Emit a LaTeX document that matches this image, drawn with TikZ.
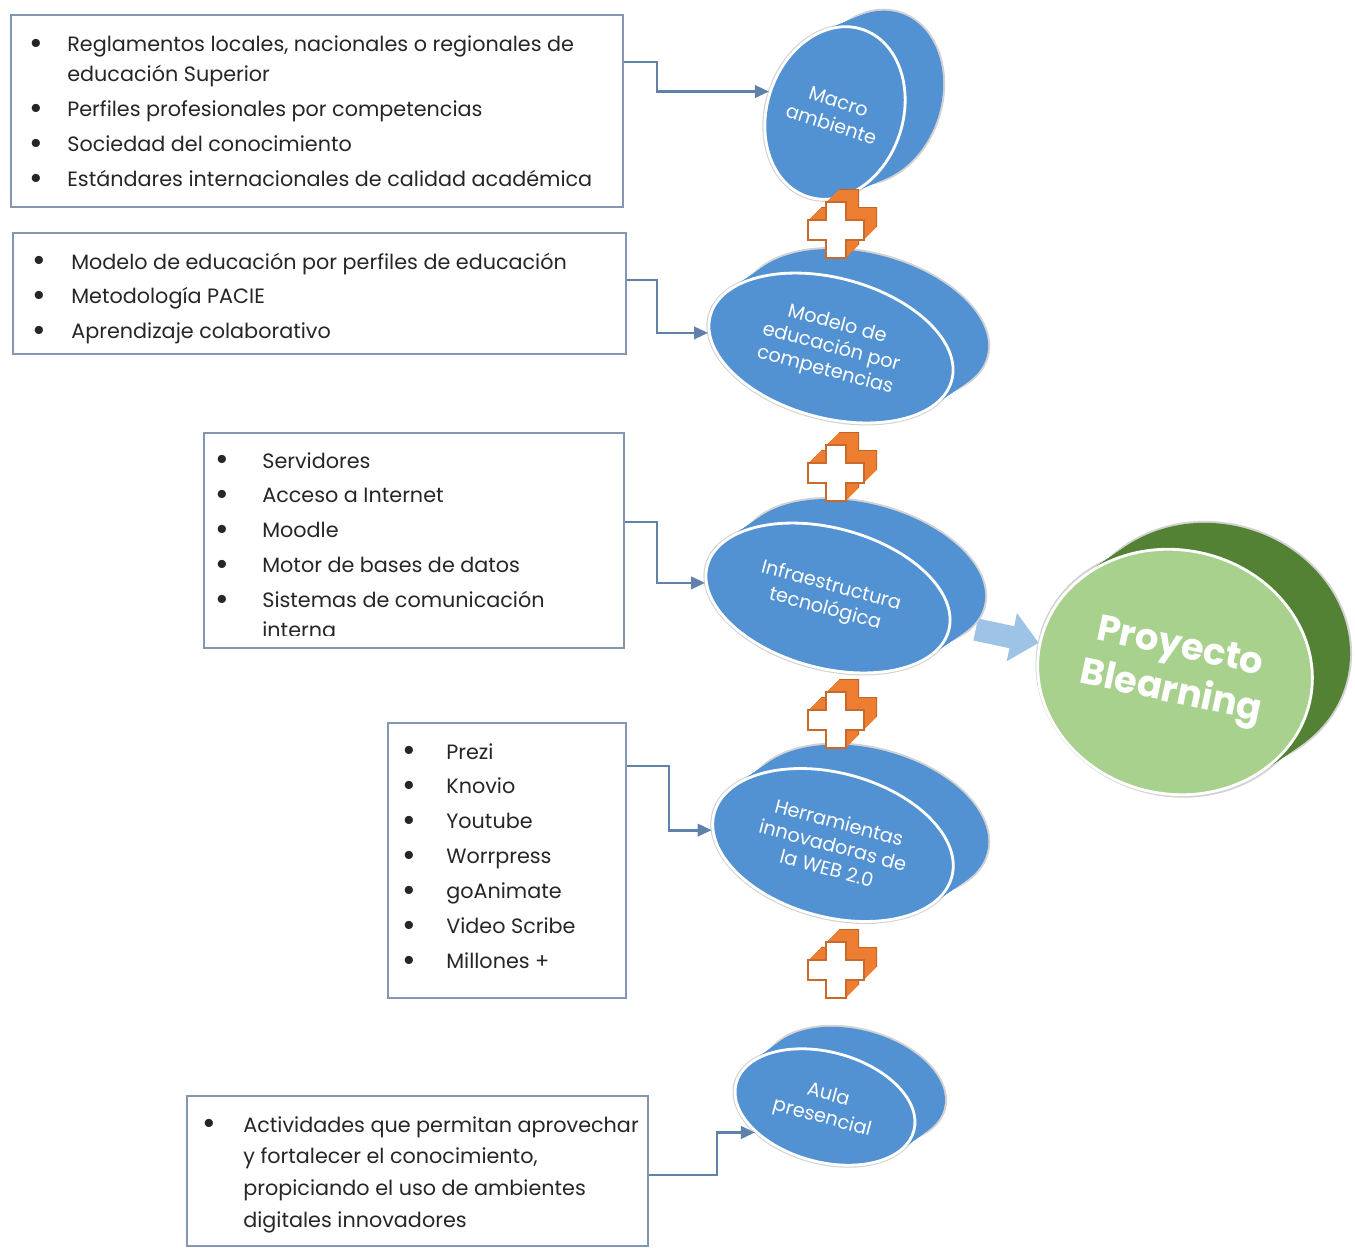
\documentclass[tikz,border=0pt]{standalone}
\usepackage{fontspec}
\usepackage{graphicx}
\setmainfont{Poppins}
\usetikzlibrary{arrows.meta, positioning, calc, shapes.geometric, backgrounds}

\definecolor{discblue}{RGB}{82,145,210}
\definecolor{greenfront}{RGB}{169,209,142}
\definecolor{greenback}{RGB}{84,130,53}
\definecolor{plusorange}{RGB}{237,125,49}
\definecolor{linkblue}{RGB}{96,130,170}
\definecolor{boxline}{RGB}{132,151,176}
\definecolor{arrowlight}{RGB}{157,195,230}

% a larger bullet than the font gives
\newcommand{\blt}{\raisebox{-1.6pt}{\scalebox{1.6}{\textbullet}}}

% outline of the plus sign, centred on the origin
\newcommand{\crosspath}{(-10,-28) -- (10,-28) -- (10,-10) -- (28,-10) -- (28,10) -- (10,10)
  -- (10,28) -- (-10,28) -- (-10,10) -- (-28,10) -- (-28,-10) -- (-10,-10) -- cycle}

% depth of a disc: x, y, x radius, y radius, angle, dx, dy, colour
\newcommand{\discstack}[8]{%
  \fill[gray!35, rotate around={#5:(#1+#6,#2+#7)}] (#1+#6,#2+#7) ellipse [x radius=#3+2, y radius=#4+2];
  \fill[gray!35, rotate around={#5:(#1,#2)}] (#1,#2) ellipse [x radius=#3+2.5, y radius=#4+2.5];
  \foreach \k in {16,...,1}{%
    \pgfmathsetmacro{\ex}{#1+#6*\k/16}%
    \pgfmathsetmacro{\ey}{#2+#7*\k/16}%
    \fill[#8, rotate around={#5:(\ex,\ey)}] (\ex,\ey) ellipse [x radius=#3, y radius=#4];
  }%
}

\tikzset{plusmark/.pic={
  \fill[plusorange!80!black, shift={(13,-13)}] \crosspath;
  \foreach \d in {12,...,1}
    \fill[plusorange, shift={(\d,-\d)}] \crosspath;
  \draw[plusorange!85!black, line width=0.6pt, fill=white] \crosspath;
}}

\begin{document}
\begin{tikzpicture}[x=0.02cm, y=-0.02cm,
    listbox/.style={draw=boxline, line width=1.2pt, fill=white, anchor=north west, inner sep=0pt},
    itemlist/.style={anchor=base west, inner sep=0pt, text=black!85, font=\fontsize{11.8}{19.9}\selectfont},
    discface/.style={ellipse, fill=discblue, draw=white, line width=1.6pt, inner sep=0pt,
      text=white, align=center, font=\fontsize{11}{13.5}\selectfont},
    feedlink/.style={-{Triangle[length=8pt, width=7pt]}, linkblue, line width=1.6pt},
    fatarrow/.style={-{Triangle[length=0.55cm, width=0.95cm]}, arrowlight, line width=0.45cm}]
  \useasboundingbox (0,0) rectangle (1355,1247);
  \begin{scope}[on background layer]
    \fill[white] (0,0) rectangle (1355,1247);
  \end{scope}

  % text boxes
  \node[listbox, minimum width=12.24cm, minimum height=3.84cm] (box1) at (10,14) {};
  \node[itemlist] (list1) at (29,52) {\begin{tabular}[t]{@{}p{0.76cm}@{}l@{}}
    \blt & Reglamentos locales, nacionales o regionales de\\[-0.1cm]
     & educación Superior\\
    \blt & Perfiles profesionales por competencias\\
    \blt & Sociedad del conocimiento\\
    \blt & Estándares internacionales de calidad académica
  \end{tabular}};

  \node[listbox, minimum width=12.26cm, minimum height=2.42cm] (box2) at (12,232) {};
  \node[itemlist] (list2) at (32,269) {\begin{tabular}[t]{@{}p{0.78cm}@{}l@{}}
    \blt & Modelo de educación por perfiles de educación\\
    \blt & Metodología PACIE\\
    \blt & Aprendizaje colaborativo
  \end{tabular}};

  \node[listbox, minimum width=8.4cm, minimum height=4.3cm] (box3) at (203,432) {};
  \begin{scope}
    \clip (box3.north west) rectangle ([yshift=0.27cm]box3.south east);
    \node[itemlist] (list3) at (215,468) {\begin{tabular}[t]{@{}p{0.94cm}@{}l@{}}
      \blt & Servidores\\
      \blt & Acceso a Internet\\
      \blt & Moodle\\
      \blt & Motor de bases de datos\\
      \blt & Sistemas de comunicación\\[-0.1cm]
       & interna
    \end{tabular}};
  \end{scope}

  \node[listbox, minimum width=4.76cm, minimum height=5.5cm] (box4) at (387,722) {};
  \node[itemlist] (list4) at (402,759) {\begin{tabular}[t]{@{}p{0.88cm}@{}l@{}}
    \blt & Prezi\\
    \blt & Knovio\\
    \blt & Youtube\\
    \blt & Worrpress\\
    \blt & goAnimate\\
    \blt & Video Scribe\\
    \blt & Millones +
  \end{tabular}};

  \node[listbox, minimum width=9.22cm, minimum height=3cm] (box5) at (186,1095) {};
  \node[itemlist, font=\fontsize{11.8}{18.2}\selectfont] (list5) at (202,1132) {\begin{tabular}[t]{@{}p{0.82cm}@{}l@{}}
    \blt & Actividades que permitan aprovechar\\
     & y fortalecer el conocimiento,\\
     & propiciando el uso de ambientes\\
     & digitales innovadores
  \end{tabular}};

  % discs
  \discstack{835}{113}{68}{88}{-18}{38}{-16}{discblue}
  \node[discface, minimum width=2.72cm, minimum height=3.52cm, rotate=-18] (m1) at (835,113) {Macro\\ambiente};

  \discstack{831}{348}{125}{70}{-15}{35}{-24}{discblue}
  \node[discface, minimum width=5cm, minimum height=2.8cm, rotate=-15] (m2) at (831,348) {Modelo de\\educación por\\competencias};

  \discstack{828}{598}{125}{70}{-15}{35}{-24}{discblue}
  \node[discface, minimum width=5cm, minimum height=2.8cm, rotate=-15] (m3) at (828,598) {Infraestructura\\tecnológica};

  \discstack{833}{845}{123}{72}{-15}{35}{-24}{discblue}
  \node[discface, minimum width=4.92cm, minimum height=2.88cm, rotate=-15] (m4) at (833,845) {Herramientas\\innovadoras de\\la WEB 2.0};

  \discstack{825}{1107}{92}{55}{-15}{30}{-22}{discblue}
  \node[discface, minimum width=3.68cm, minimum height=2.2cm, rotate=-15] (m5) at (825,1107) {Aula\\presencial};

  \discstack{1175}{672}{138}{122}{-15}{38}{-26}{greenback}
  \node[discface, fill=greenfront, minimum width=5.52cm, minimum height=4.88cm, rotate=-12,
    font=\bfseries\fontsize{21}{26}\selectfont] (proy) at (1175,672) {Proyecto\\Blearning};

  % plus signs
  \pic at (836,230) {plusmark};
  \pic at (836,473) {plusmark};
  \pic at (836,720) {plusmark};
  \pic at (836,970) {plusmark};

  % connectors
  \draw[feedlink] ([yshift=-0.96cm]box1.north east) -- ++(33,0) |- (m1.west);
  \draw[feedlink] ([yshift=-0.96cm]box2.north east) -- ++(30,0) |- (m2.188);
  \draw[feedlink] ([yshift=-1.8cm]box3.north east) -- ++(32,0) |- (m3.188);
  \draw[feedlink] ([yshift=-0.88cm]box4.north east) -- ++(42,0) |- (m4.188);
  \draw[feedlink] ([yshift=-1.6cm]box5.north east) -- ++(68,0) |- (m5.215);
  \begin{scope}[on background layer]
    \draw[fatarrow, shorten <=0.5cm] (m3) -- (proy);
  \end{scope}
\end{tikzpicture}
\end{document}
